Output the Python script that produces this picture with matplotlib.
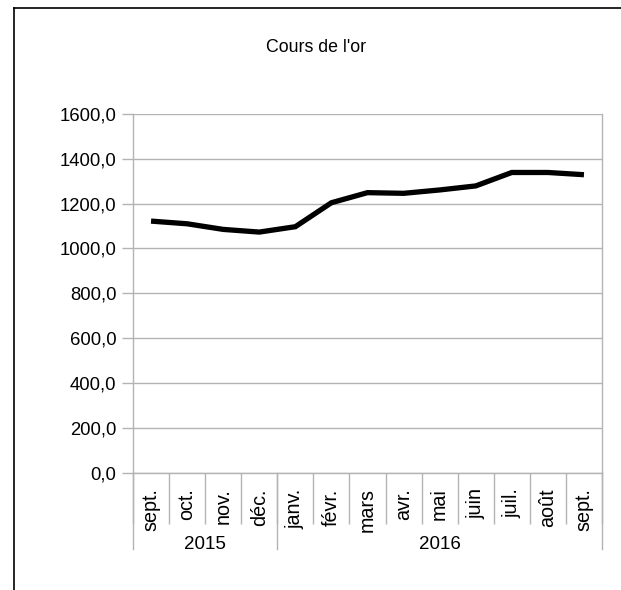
import matplotlib.pyplot as plt
import matplotlib.transforms as mtransforms
import numpy as np

plt.rcParams['font.family'] = ['Liberation Sans', 'DejaVu Sans']

months = ["sept.", "oct.", "nov.", "déc.", "janv.", "févr.", "mars",
          "avr.", "mai", "juin", "juil.", "août", "sept."]
years = ["2015", "2016"]
year_counts = [4, 9]
prix = [1122, 1110, 1085, 1073, 1097, 1204, 1249, 1246, 1261, 1279, 1339, 1339, 1329]
yticks = [0, 200, 400, 600, 800, 1000, 1200, 1400, 1600]

grey = '#b3b3b3'

fig = plt.figure(figsize=(6.21, 5.90), dpi=100)
ax = fig.add_axes([133/621, 1-472.5/590, (602-133)/621, (472.5-114)/590])

x = np.arange(len(months))
ax.plot(x, prix, color='black', linewidth=3.8, solid_joinstyle='miter', solid_capstyle='butt')

ax.set_xlim(-0.5, len(months)-0.5)
ax.set_ylim(0, 1600)
ax.set_yticks(yticks)
ax.set_yticklabels([("%.1f" % v).replace('.', ',') for v in yticks])
ax.yaxis.grid(True, color=grey, linewidth=1)
ax.set_axisbelow(True)

for s in ['left', 'right', 'bottom']:
    ax.spines[s].set_color(grey)
    ax.spines[s].set_linewidth(1)
ax.spines['top'].set_visible(False)

ax.tick_params(axis='y', length=8, color=grey, width=1, labelsize=13.3, pad=4)

# month labels and separators
ax.set_xticks(x)
ax.set_xticklabels(months, rotation=90, fontsize=14.2)
ax.set_xticks(np.arange(len(months)+1) - 0.5, minor=True)
ax.tick_params(axis='x', which='major', length=0, pad=11.5)
ax.tick_params(axis='x', which='minor', length=36.5, color=grey, width=1)

# year groups
trans = mtransforms.blended_transform_factory(ax.transData, ax.transAxes)
ybot = -76.5/358.5
bounds = [-0.5]
for n in year_counts:
    bounds.append(bounds[-1] + n)
for b in bounds:
    ax.plot([b, b], [0, ybot], color=grey, linewidth=1, transform=trans, clip_on=False)
for i in range(len(years)):
    ax.text((bounds[i] + bounds[i+1]) / 2, -72/358.5, years[i], transform=trans,
            ha='center', va='center', fontsize=13.5)

fig.text(316/621, 1-47/590, "Cours de l'or", ha='center', va='center', fontsize=12.8)

# outer frame (left and top edges)
fig.add_artist(plt.Line2D([14/621, 14/621], [0, 1-8/590], color='black', linewidth=1.2))
fig.add_artist(plt.Line2D([14/621, 1], [1-8/590, 1-8/590], color='black', linewidth=1.2))

plt.savefig("out.png", dpi=100)
